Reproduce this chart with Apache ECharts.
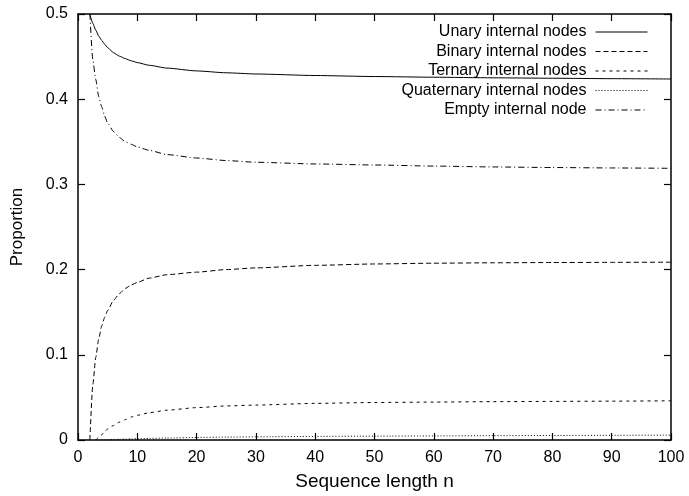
<!DOCTYPE html>
<html>
<head>
<meta charset="utf-8">
<script src="https://cdn.jsdelivr.net/npm/echarts@6/dist/echarts.min.js"></script>
<style>
html,body{margin:0;padding:0;background:#fff;}
#chart{width:689px;height:496px;}
</style>
</head>
<body>
<div id="chart"></div>
<script>
// Sequence length n
var nValues = [2, 2.5, 3, 3.5, 4, 4.5, 5, 6, 7, 8, 9, 10, 12, 15, 20, 25, 30, 40, 50, 60, 70, 80, 90, 100];
// Proportions
var unary      = [0.500, 0.489, 0.481, 0.474, 0.469, 0.4645, 0.4605, 0.4545, 0.4505, 0.4475, 0.445, 0.443, 0.4398, 0.4365, 0.4332, 0.431, 0.4296, 0.4278, 0.4266, 0.4258, 0.4251, 0.4246, 0.4241, 0.4237];
var binary     = [0.000, 0.065, 0.097, 0.119, 0.134, 0.144, 0.152, 0.164, 0.172, 0.178, 0.182, 0.185, 0.190, 0.194, 0.197, 0.200, 0.202, 0.205, 0.2066, 0.2075, 0.208, 0.2083, 0.2085, 0.2087];
var ternary    = [null, null, 0.000, 0.003, 0.006, 0.010, 0.013, 0.017, 0.021, 0.024, 0.027, 0.029, 0.032, 0.035, 0.038, 0.040, 0.041, 0.043, 0.044, 0.0445, 0.045, 0.0453, 0.0456, 0.046];
var quaternary = [null, null, null, null, 0.000, 0.0001, 0.0003, 0.0006, 0.0009, 0.0011, 0.0013, 0.0015, 0.0019, 0.0023, 0.003, 0.0034, 0.0037, 0.0042, 0.0045, 0.0048, 0.0051, 0.0053, 0.0055, 0.0057];
var empty      = [0.500, 0.446, 0.423, 0.403, 0.391, 0.380, 0.372, 0.362, 0.355, 0.350, 0.347, 0.344, 0.340, 0.335, 0.331, 0.328, 0.326, 0.324, 0.3228, 0.3215, 0.3205, 0.3198, 0.3193, 0.3189];
var seriesNames = ['Unary internal nodes', 'Binary internal nodes', 'Ternary internal nodes', 'Quaternary internal nodes', 'Empty internal node'];
var xTicks = {min: 0, max: 100, interval: 10};
var yTicks = {min: 0, max: 0.5, interval: 0.1};

function pairs(vals) {
  return nValues.map(function (n, i) { return [n, vals[i]]; });
}

var FONT = 'Liberation Sans, Arial, Helvetica, sans-serif';
var dashes = ['solid', [5, 3], [3, 4], [1, 2], [6, 3, 1, 3]];
var values = [unary, binary, ternary, quaternary, empty];

var chart = echarts.init(document.getElementById('chart'));

var axisCommon = {
  axisLine: {show: true, onZero: false, lineStyle: {color: '#000', width: 1.5}},
  axisTick: {show: true, inside: true, length: 7, lineStyle: {color: '#000', width: 1.2}},
  splitLine: {show: false}
};

var legends = seriesNames.map(function (name, i) {
  return {
    data: [name],
    right: 41,
    top: 24 + i * 19.5,
    align: 'right',
    itemWidth: 52,
    itemHeight: 10,
    itemGap: 0,
    selectedMode: false,
    itemStyle: {opacity: 0},
    lineStyle: {width: 1},
    textStyle: {fontFamily: FONT, fontSize: 16, color: '#000', padding: [0, 4, 0, 0]},
    padding: 0
  };
});

chart.setOption({
  animation: false,
  backgroundColor: '#fff',
  grid: {left: 78, right: 18, top: 14, bottom: 56, containLabel: false},
  legend: legends,
  xAxis: [
    Object.assign({}, axisCommon, {
      type: 'value', position: 'bottom',
      min: xTicks.min, max: xTicks.max, interval: xTicks.interval,
      name: 'Sequence length n', nameLocation: 'middle', nameGap: 32,
      nameTextStyle: {fontFamily: FONT, fontSize: 19, color: '#000'},
      axisLabel: {fontFamily: FONT, fontSize: 16, color: '#000', margin: 10}
    }),
    Object.assign({}, axisCommon, {
      type: 'value', position: 'top',
      min: xTicks.min, max: xTicks.max, interval: xTicks.interval,
      axisLabel: {show: false}
    })
  ],
  yAxis: [
    Object.assign({}, axisCommon, {
      type: 'value', position: 'left',
      min: yTicks.min, max: yTicks.max, interval: yTicks.interval,
      name: 'Proportion', nameLocation: 'middle', nameGap: 52,
      nameTextStyle: {fontFamily: FONT, fontSize: 17, color: '#000'},
      axisLabel: {fontFamily: FONT, fontSize: 16, color: '#000', margin: 10}
    }),
    Object.assign({}, axisCommon, {
      type: 'value', position: 'right',
      min: yTicks.min, max: yTicks.max, interval: yTicks.interval,
      axisLabel: {show: false}
    })
  ],
  series: seriesNames.map(function (name, i) {
    return {
      name: name,
      type: 'line',
      xAxisIndex: 0,
      yAxisIndex: 0,
      data: pairs(values[i]),
      symbol: 'none',
      showSymbol: false,
      smooth: 0.2,
      smoothMonotone: 'x',
      connectNulls: false,
      clip: true,
      color: '#000',
      lineStyle: {color: '#000', width: 1, type: dashes[i]},
      itemStyle: {color: '#000'}
    };
  })
});
</script>
</body>
</html>
